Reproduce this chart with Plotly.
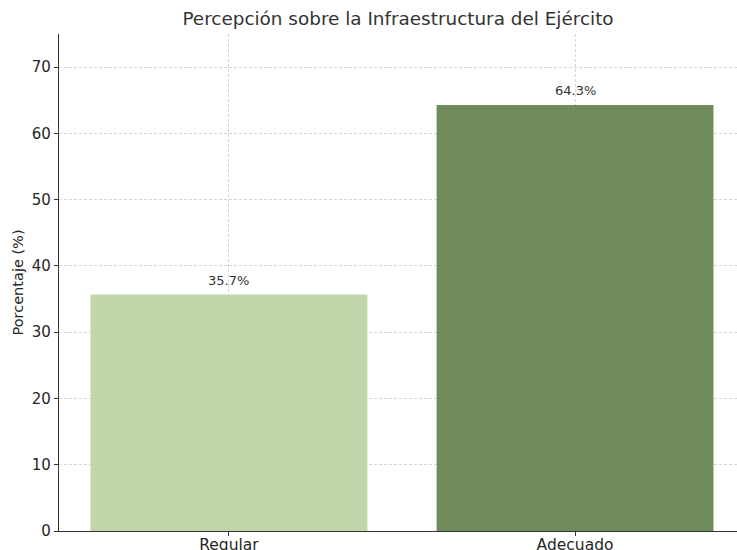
import plotly.graph_objects as go

categories = ["Regular", "Adecuado"]
values = [35.7, 64.3]
labels = ["35.7%", "64.3%"]
colors = ["rgba(184,208,158,0.88)", "rgba(98,128,74,0.9)"]
y_ticks = [0, 10, 20, 30, 40, 50, 60, 70]

fig = go.Figure()
fig.add_trace(go.Bar(
    x=[0, 1], y=values, width=0.8,
    marker=dict(color=colors, line=dict(width=0)),
    hoverinfo="skip",
))
for i, (v, lab) in enumerate(zip(values, labels)):
    fig.add_annotation(x=i, y=v, text=lab, showarrow=False, yanchor="middle",
                       yshift=14, font=dict(family="DejaVu Sans", size=13, color="#333333"))

fig.update_layout(
    width=737, height=550,
    margin=dict(l=59, r=0, t=34, b=19, autoexpand=False),
    paper_bgcolor="white", plot_bgcolor="white",
    font=dict(family="DejaVu Sans", color="#262626"),
    title=dict(text="Percepción sobre la Infraestructura del Ejército",
               x=0.5, xref="paper", y=1 - 19 / 550, yanchor="middle",
               font=dict(size=18.4, color="#333333")),
    showlegend=False,
    bargap=0.2,
)
fig.update_xaxes(
    range=[-0.491, 1.468], tickmode="array", tickvals=[0, 1], ticktext=categories,
    showline=True, linecolor="#333333", linewidth=1.2,
    ticks="outside", ticklen=4, tickcolor="#333333",
    tickfont=dict(size=15.5, color="#262626"), ticklabelstandoff=-5,
    showgrid=True, gridcolor="#d6d6d6", griddash="3px,2px", gridwidth=0.8,
    zeroline=False, fixedrange=True, automargin=False,
)
fig.update_yaxes(
    range=[0, 75], tickmode="array", tickvals=y_ticks,
    showline=True, linecolor="#333333", linewidth=1.2,
    ticks="outside", ticklen=4, tickcolor="#333333",
    tickfont=dict(size=15, color="#262626"),
    showgrid=True, gridcolor="#d6d6d6", griddash="3px,2px", gridwidth=0.8,
    zeroline=False, automargin=False,
    title=dict(text="Porcentaje (%)", font=dict(size=14.5, color="#262626"), standoff=4),
)

fig.write_html("out.html")
